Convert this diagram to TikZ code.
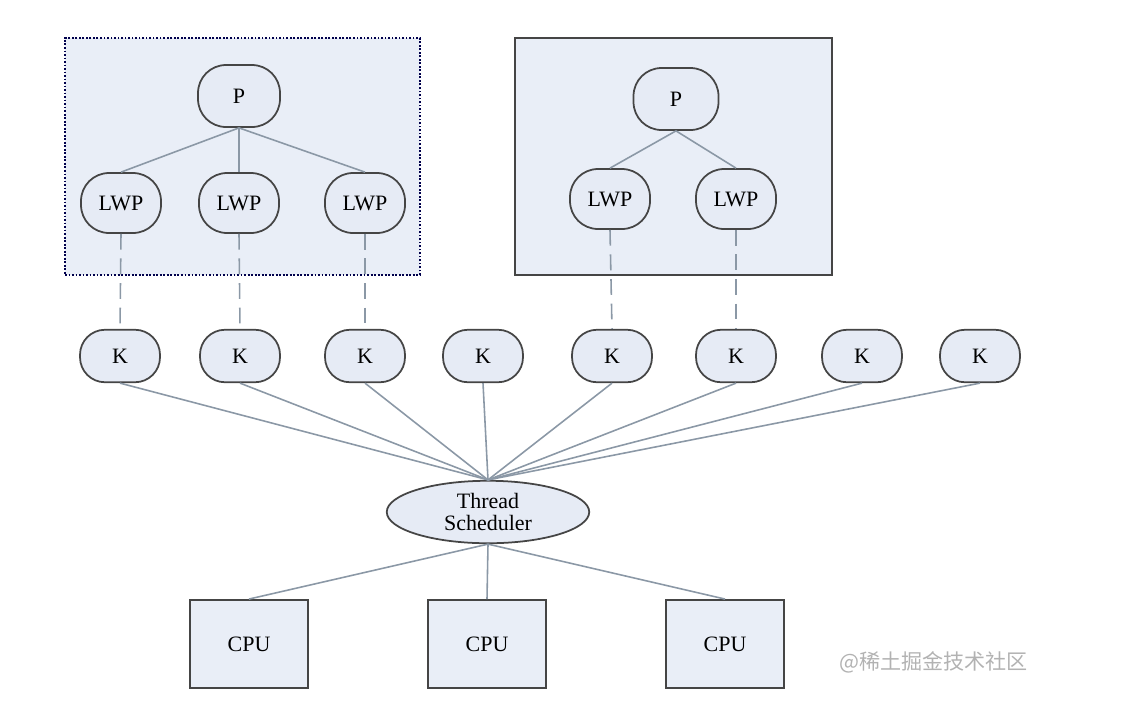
\documentclass[tikz,border=0pt]{standalone}
\usepackage{fontspec}
\setmainfont{Liberation Serif}
\newfontfamily\cjk{Noto Sans CJK SC}
\usepackage{xcolor}
\usetikzlibrary{shapes.geometric, positioning}

\definecolor{boxfill}{HTML}{E9EEF7}
\definecolor{nodefill}{HTML}{E6EBF5}
\definecolor{edgegray}{HTML}{454545}
\definecolor{linkgray}{HTML}{8B98A6}

\begin{document}
\begin{tikzpicture}[
        x=0.02cm, y=-0.02cm,
        userbox/.style={draw=edgegray, fill=boxfill, line width=1.1pt},
        oval/.style={draw=edgegray, fill=nodefill, line width=1pt, rounded corners=0.56cm, minimum width=1.6cm, minimum height=1.2cm, font=\fontsize{12.5}{14}\selectfont},
        knode/.style={oval, minimum height=1.05cm, rounded corners=0.5cm},
        sched/.style={ellipse, draw=edgegray, fill=nodefill, line width=1pt, minimum width=4.05cm, minimum height=1.25cm, inner sep=0pt, align=center, font=\fontsize{12.5}{13}\selectfont},
        cpu/.style={draw=edgegray, fill=boxfill, line width=1.1pt, minimum width=2.36cm, minimum height=1.76cm, font=\fontsize{12.5}{14}\selectfont},
        link/.style={draw=linkgray, line width=0.9pt},
        dashlink/.style={link, dash pattern=on 9pt off 5pt}
    ]
    \useasboundingbox (0,0) rectangle (1122,711);

    % Prozess-Rahmen
    \node (task1) [userbox, dash pattern=on 1pt off 1pt, draw=black!70!blue, minimum width=7.1cm, minimum height=4.74cm] at (242.5,156.5) {};
    \node (task2) [userbox, minimum width=6.34cm, minimum height=4.74cm] at (673.5,156.5) {};

    % linker Prozess
    \node (p1) [oval, minimum width=1.64cm, minimum height=1.24cm] at (239,96) {P};
    \node (lwp11) [oval] at (121,203) {LWP};
    \node (lwp12) [oval] at (239,203) {LWP};
    \node (lwp13) [oval] at (365,203) {LWP};

    % rechter Prozess
    \node (p2) [oval, minimum width=1.7cm, minimum height=1.24cm] at (676,99) {P};
    \node (lwp21) [oval] at (610,199) {LWP};
    \node (lwp22) [oval] at (736,199) {LWP};

    % Kernel-Threads
    \foreach \x [count=\i] in {120,240,365,483,612,736,862,980}
        \node (k\i) [knode] at (\x,356) {K};

    \node (ts) [sched] at (488,512) {Thread\\Scheduler};

    \node (cpu1) [cpu] at (249,644) {CPU};
    \node (cpu2) [cpu] at (487,644) {CPU};
    \node (cpu3) [cpu] at (725,644) {CPU};

    % Verbindungen
    \foreach \l in {lwp11,lwp12,lwp13}
        \draw[link] (p1.south) -- (\l.north);
    \foreach \l in {lwp21,lwp22}
        \draw[link] (p2.south) -- (\l.north);

    \draw[dashlink] (lwp11.south) -- (k1.north);
    \draw[dashlink] (lwp12.south) -- (k2.north);
    \draw[dashlink] (lwp13.south) -- (k3.north);
    \draw[dashlink] (lwp21.south) -- (k5.north);
    \draw[dashlink] (lwp22.south) -- (k6.north);

    \foreach \i in {1,...,8}
        \draw[link] (k\i.south) -- (ts.north);
    \foreach \c in {cpu1,cpu2,cpu3}
        \draw[link] (ts.south) -- (\c.north);

    \node (mark) [anchor=west, text=black!30, font=\cjk\fontsize{12}{12}\selectfont] at (833,662) {@稀土掘金技术社区};
\end{tikzpicture}
\end{document}
